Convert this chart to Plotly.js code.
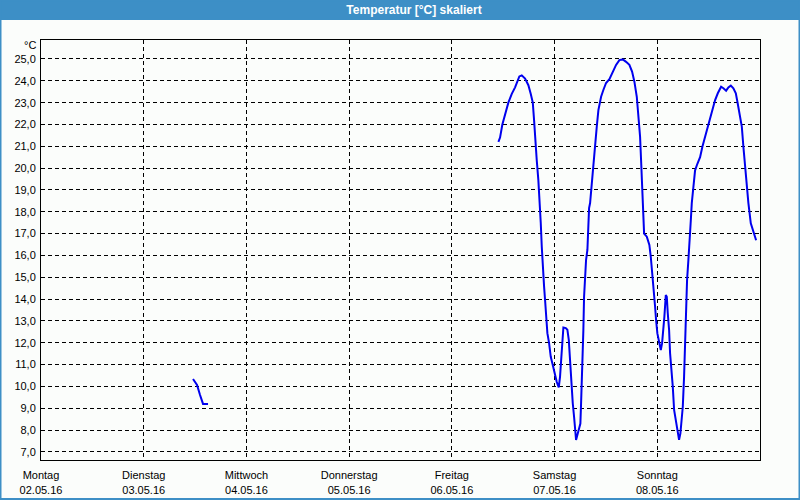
<!DOCTYPE html>
<html>
<head>
<meta charset="utf-8">
<script src="https://cdn.plot.ly/plotly-3.0.1.min.js"></script>
<style>
  html, body { margin: 0; padding: 0; background: #fbfdfb; }
  #chart { width: 800px; height: 500px; }
</style>
</head>
<body>
<div id="chart"></div>
<script>
// Hours since Monday 02.05.16 00:00
const hoursSeg1 = [35.52, 36.46, 37.16, 37.86, 39.03];
const tempSeg1  = [10.34, 10.07, 9.61, 9.2, 9.2];

const hoursSeg2 = [
  106.87, 107.26, 107.80, 108.43, 109.20, 110.00, 110.77, 111.77, 112.33, 113.11,
  113.88, 114.44, 114.91, 115.21, 115.51, 115.84, 116.21, 116.54, 116.77, 117.01,
  117.24, 117.55, 117.78, 118.01, 118.32, 118.71, 119.11, 119.58, 120.05, 120.51,
  120.98, 121.28, 121.59, 121.91, 122.06, 122.62, 122.99, 123.32, 123.55, 123.79,
  124.02, 124.25, 124.56, 124.86, 125.02, 125.33, 125.66, 126.03, 126.19, 126.36,
  126.50, 126.73, 126.89, 127.13, 127.36, 127.67, 128.06, 128.30, 128.69, 129.07,
  129.46, 129.86, 130.24, 130.87, 131.40, 132.03, 132.81, 133.60, 134.37, 135.14,
  135.94, 136.71, 137.48, 138.11, 138.65, 139.21, 139.58, 139.98, 140.21, 140.52,
  140.75, 140.92, 141.55, 142.15, 142.48, 142.86, 143.18, 143.49, 143.72, 144.02,
  144.42, 144.82, 145.12, 145.43, 145.66, 145.99, 146.22, 146.45, 146.76, 146.99,
  147.39, 147.62, 147.93, 148.39, 148.70, 149.09, 149.40, 149.63, 149.96, 150.26,
  150.50, 150.73, 150.96, 151.27, 151.50, 151.83, 152.06, 152.44, 152.83, 153.37,
  154.00, 154.54, 155.17, 155.80, 156.34, 156.97, 157.51, 158.14, 158.91, 159.45,
  160.08, 160.61, 161.18, 161.78, 162.35, 162.72, 163.19, 163.75, 164.12, 164.52,
  164.92, 165.29, 165.85, 166.46, 167.09
];
const tempSeg2 = [
  21.2, 21.4, 22.0, 22.5, 23.0, 23.4, 23.7, 24.2, 24.25, 24.1,
  23.8, 23.4, 23.0, 22.2, 21.1, 20.35, 19.45, 18.5, 17.5, 16.4,
  15.3, 14.57, 13.96, 13.2, 12.44, 12.0, 11.36, 10.98, 10.5, 10.2,
  9.96, 10.45, 11.36, 12.43, 12.7, 12.67, 12.6, 12.13, 11.36, 10.45,
  9.84, 9.23, 8.6, 8.0, 7.55, 7.78, 8.0, 8.3, 9.2, 10.1,
  11.2, 12.58, 14.1, 15.03, 15.8, 16.25, 18.17, 18.4, 19.3, 20.37,
  21.13, 21.9, 22.66, 23.27, 23.58, 23.9, 24.07, 24.42, 24.73, 24.95,
  24.98, 24.87, 24.73, 24.42, 23.96, 23.27, 22.35, 21.44, 20.37, 19.15,
  18.08, 17.0, 16.86, 16.48, 15.94, 15.18, 14.57, 13.65, 13.04, 12.43,
  12.05, 11.67, 11.98, 12.58, 13.2, 14.19, 14.11, 13.35, 12.58, 11.52,
  10.76, 9.99, 8.92, 8.39, 8.0, 7.55, 7.85, 8.31, 9.07, 10.45,
  11.98, 13.5, 14.88, 15.8, 16.4, 17.6, 18.4, 19.15, 19.9, 20.2,
  20.5, 20.98, 21.44, 21.98, 22.36, 22.74, 23.12, 23.43, 23.73, 23.66,
  23.55, 23.7, 23.78, 23.66, 23.43, 23.04, 22.5, 21.9, 20.98, 20.07,
  19.15, 18.4, 17.47, 17.1, 16.7
];

const dayTicks = [0, 24, 48, 72, 96, 120, 144];
const dayNames = ['Montag', 'Dienstag', 'Mittwoch', 'Donnerstag', 'Freitag', 'Samstag', 'Sonntag'];
const dayDates = ['02.05.16', '03.05.16', '04.05.16', '05.05.16', '06.05.16', '07.05.16', '08.05.16'];
const tempTicks = [7, 8, 9, 10, 11, 12, 13, 14, 15, 16, 17, 18, 19, 20, 21, 22, 23, 24, 25];

const chartTitle = 'Temperatur [°C] skaliert';
const unitLabel = '°C';

const lineStyle = { color: '#0000ee', width: 2 };
const traces = [
  { x: hoursSeg1, y: tempSeg1, mode: 'lines', line: lineStyle, hoverinfo: 'skip' },
  { x: hoursSeg2, y: tempSeg2, mode: 'lines', line: lineStyle, hoverinfo: 'skip' }
];

// plot area in pixels: left 41, right 760, top 40, bottom 460
const L = 41, R = 760, T = 40, B = 460, W = 800, H = 500;
const px = v => (v - L) / (R - L);
const py = v => (B - v) / (B - T);

const font = { family: 'Liberation Sans, Arial, sans-serif', size: 11, color: '#000000' };

const layout = {
  width: W, height: H,
  margin: { l: L, r: W - R, t: T, b: H - B, pad: 0 },
  paper_bgcolor: '#fbfdfb',
  plot_bgcolor: '#fbfdfb',
  showlegend: false,
  separators: ',.',
  font: font,
  title: {
    text: '<b>' + chartTitle + '</b>',
    font: { family: 'Liberation Sans, Arial, sans-serif', size: 12, color: '#ffffff' },
    x: 414 / W, xanchor: 'center', xref: 'container',
    y: 1 - 10 / H, yanchor: 'middle', yref: 'container'
  },
  xaxis: {
    range: [0, 168],
    tickmode: 'array',
    tickvals: dayTicks,
    ticktext: dayNames.map((n, i) => n + '<br>' + dayDates[i]),
    ticks: '',
    ticklabelstandoff: 5,
    showgrid: true, gridcolor: '#000000', gridwidth: 1, griddash: '4px,3px',
    showline: true, linecolor: '#000000', linewidth: 1, mirror: true,
    zeroline: false, fixedrange: true,
    tickfont: font
  },
  yaxis: {
    range: [6.63, 25.87],
    tickmode: 'array',
    tickvals: tempTicks,
    tickformat: '.1f',
    ticks: '',
    ticklabelstandoff: 2,
    showgrid: true, gridcolor: '#000000', gridwidth: 1, griddash: '4px,3px',
    showline: true, linecolor: '#000000', linewidth: 1, mirror: true,
    zeroline: false, fixedrange: true,
    tickfont: font
  },
  shapes: [
    { type: 'rect', xref: 'paper', yref: 'paper', layer: 'below',
      x0: px(0), x1: px(W), y0: py(20), y1: py(0),
      fillcolor: '#3d8fc6', line: { width: 0 } },
    { type: 'rect', xref: 'paper', yref: 'paper', layer: 'below',
      x0: px(0.5), x1: px(W - 0.5), y0: py(H - 1), y1: py(0.5),
      fillcolor: 'rgba(0,0,0,0)', line: { color: '#3d8fc6', width: 2 } }
  ],
  annotations: [
    { text: unitLabel, xref: 'paper', yref: 'paper', x: 0, y: py(45),
      xanchor: 'right', yanchor: 'middle', xshift: -3, showarrow: false, font: font }
  ]
};

Plotly.newPlot('chart', traces, layout, { staticPlot: true, displayModeBar: false });
</script>
</body>
</html>
